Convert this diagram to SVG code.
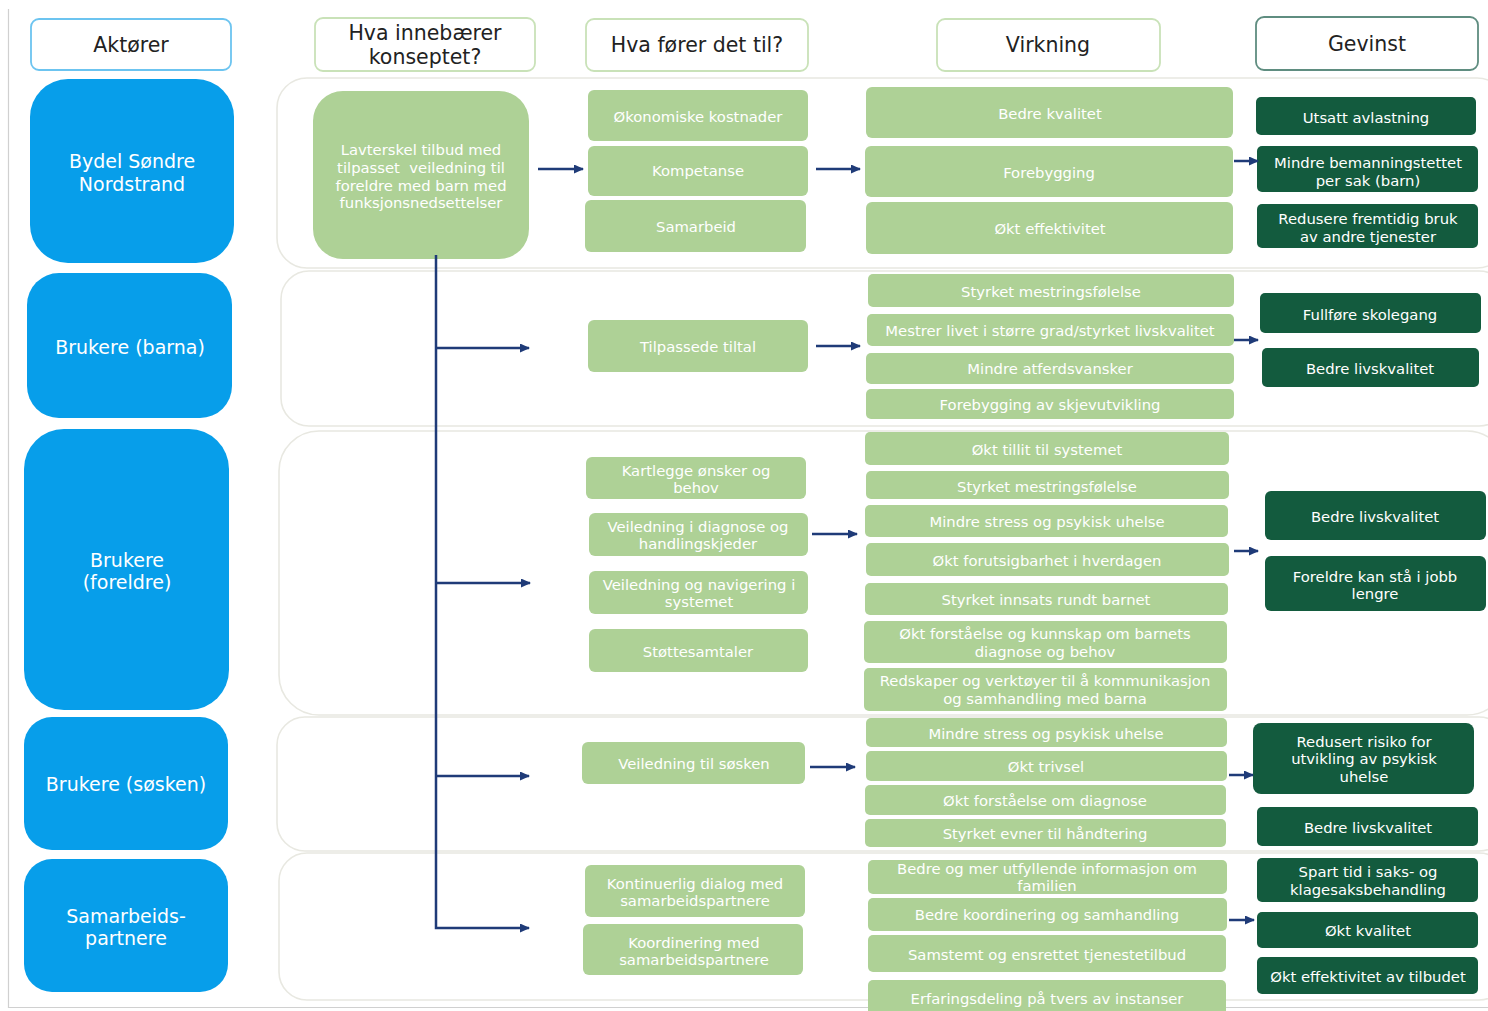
<svg xmlns="http://www.w3.org/2000/svg" width="1488" height="1011" viewBox="0 0 1488 1011">
<defs>
<style>
text{font-family:"DejaVu Sans",Verdana,sans-serif;text-anchor:middle;dominant-baseline:central}
.hdr{fill:#fff;stroke-width:1.8}
.hb{stroke:#6cc4f0}
.hg{stroke:#c9e2b8}
.ht{stroke:#5f8d80}
.ht1{font-size:20.5px;fill:#222}
.actor{fill:#079eea}
.at{font-size:19px;fill:#fff}
.row{fill:#fff;stroke:#e8e8e1;stroke-width:1.6}
.lg{fill:#aed196}
.dg{fill:#135b3e}
.t{font-size:14.8px;fill:#fff}
.tc{font-size:14.8px;fill:#fff}
.conn{fill:none;stroke:#1f3b78;stroke-width:2.5}
.frame{fill:none;stroke:#d0d0d0;stroke-width:1.2}
</style>
<marker id="ah" markerUnits="userSpaceOnUse" markerWidth="10" markerHeight="10" refX="9" refY="4.5" orient="auto">
<path d="M0,0 L10,4.5 L0,9 z" fill="#1f3b78"/>
</marker>
</defs>
<rect width="1488" height="1011" fill="#fff"/>
<path class="frame" d="M8.5,9 V1007.5 H1488"/>

<!-- row containers -->
<g id="rows">
<rect class="row" x="277" y="78" width="1230" height="190" rx="30"/>
<rect class="row" x="281" y="271" width="1226" height="155" rx="28"/>
<rect class="row" x="279" y="431" width="1228" height="284" rx="40"/>
<rect class="row" x="277" y="717" width="1230" height="134" rx="28"/>
<rect class="row" x="279" y="853" width="1228" height="147" rx="28"/>
</g>

<!-- headers -->
<g id="hdr-aktorer"><rect class="hdr hb" x="31" y="19" width="200" height="51" rx="8"/><text class="ht1" x="131" y="45">Aktører</text></g>
<g id="hdr-konsept"><rect class="hdr hg" x="315" y="18" width="220" height="53" rx="8"/><text class="ht1" x="425" y="33">Hva innebærer</text><text class="ht1" x="425" y="57">konseptet?</text></g>
<g id="hdr-forer"><rect class="hdr hg" x="586" y="19" width="222" height="52" rx="8"/><text class="ht1" x="697" y="45">Hva fører det til?</text></g>
<g id="hdr-virkning"><rect class="hdr hg" x="937" y="19" width="223" height="52" rx="8"/><text class="ht1" x="1048" y="45">Virkning</text></g>
<g id="hdr-gevinst"><rect class="hdr ht" x="1256" y="17" width="222" height="53" rx="8"/><text class="ht1" x="1367" y="44">Gevinst</text></g>

<!-- actors -->
<g id="actor-bydel"><rect class="actor" x="30" y="79" width="204" height="184" rx="38"/><text class="at" x="132" y="161">Bydel Søndre</text><text class="at" x="132" y="184">Nordstrand</text></g>
<g id="actor-barna"><rect class="actor" x="27" y="273" width="205" height="145" rx="32"/><text class="at" x="130" y="347">Brukere (barna)</text></g>
<g id="actor-foreldre"><rect class="actor" x="24" y="429" width="205" height="281" rx="40"/><text class="at" x="127" y="560">Brukere</text><text class="at" x="127" y="582">(foreldre)</text></g>
<g id="actor-sosken"><rect class="actor" x="24" y="717" width="204" height="133" rx="28"/><text class="at" x="126" y="784">Brukere (søsken)</text></g>
<g id="actor-samarbeid"><rect class="actor" x="24" y="859" width="204" height="133" rx="28"/><text class="at" x="126" y="916">Samarbeids-</text><text class="at" x="126" y="938">partnere</text></g>

<!-- concept -->
<g id="konsept"><rect class="lg" x="313" y="91" width="216" height="168" rx="30"/>
<text class="tc" x="421" y="149">Lavterskel tilbud med</text>
<text class="tc" x="421" y="167" xml:space="preserve">tilpasset  veiledning til</text>
<text class="tc" x="421" y="185">foreldre med barn med</text>
<text class="tc" x="421" y="202">funksjonsnedsettelser</text></g>

<!-- column 3 -->
<g id="c3-okonomi"><rect class="lg" x="588" y="90" width="220" height="51" rx="6"/><text class="t" x="698" y="116">Økonomiske kostnader</text></g>
<g id="c3-kompetanse"><rect class="lg" x="588" y="146" width="220" height="50" rx="6"/><text class="t" x="698" y="170">Kompetanse</text></g>
<g id="c3-samarbeid"><rect class="lg" x="585" y="200" width="221" height="52" rx="6"/><text class="t" x="696" y="226">Samarbeid</text></g>
<g id="c3-tilpassede"><rect class="lg" x="588" y="320" width="220" height="52" rx="6"/><text class="t" x="698" y="346">Tilpassede tiltal</text></g>
<g id="c3-kartlegge"><rect class="lg" x="586" y="457" width="220" height="42" rx="6"/><text class="t" x="696" y="470">Kartlegge ønsker og</text><text class="t" x="696" y="487">behov</text></g>
<g id="c3-veil-diag"><rect class="lg" x="589" y="513" width="219" height="43" rx="6"/><text class="t" x="698" y="526">Veiledning i diagnose og</text><text class="t" x="698" y="543">handlingskjeder</text></g>
<g id="c3-veil-nav"><rect class="lg" x="589" y="571" width="219" height="43" rx="6"/><text class="t" x="699" y="584">Veiledning og navigering i</text><text class="t" x="699" y="601">systemet</text></g>
<g id="c3-stotte"><rect class="lg" x="589" y="629" width="219" height="43" rx="6"/><text class="t" x="698" y="651">Støttesamtaler</text></g>
<g id="c3-sosken"><rect class="lg" x="582" y="742" width="223" height="42" rx="6"/><text class="t" x="694" y="763">Veiledning til søsken</text></g>
<g id="c3-dialog"><rect class="lg" x="585" y="865" width="220" height="52" rx="6"/><text class="t" x="695" y="883">Kontinuerlig dialog med</text><text class="t" x="695" y="900">samarbeidspartnere</text></g>
<g id="c3-koord"><rect class="lg" x="583" y="924" width="220" height="51" rx="6"/><text class="t" x="694" y="942">Koordinering med</text><text class="t" x="694" y="959">samarbeidspartnere</text></g>

<!-- column 4 -->
<g id="c4-r1-kvalitet"><rect class="lg" x="866" y="87" width="367" height="51" rx="6"/><text class="t" x="1050" y="113">Bedre kvalitet</text></g>
<g id="c4-r1-forebygging"><rect class="lg" x="865" y="146" width="368" height="51" rx="6"/><text class="t" x="1049" y="172">Forebygging</text></g>
<g id="c4-r1-effektivitet"><rect class="lg" x="866" y="202" width="367" height="52" rx="6"/><text class="t" x="1050" y="228">Økt effektivitet</text></g>

<g id="c4-r2-mestring"><rect class="lg" x="868" y="274" width="366" height="33" rx="5"/><text class="t" x="1051" y="291">Styrket mestringsfølelse</text></g>
<g id="c4-r2-mestrer"><rect class="lg" x="867" y="314" width="367" height="32" rx="5"/><text class="t" x="1050" y="330">Mestrer livet i større grad/styrket livskvalitet</text></g>
<g id="c4-r2-atferd"><rect class="lg" x="866" y="353" width="368" height="31" rx="5"/><text class="t" x="1050" y="368">Mindre atferdsvansker</text></g>
<g id="c4-r2-skjev"><rect class="lg" x="866" y="389" width="368" height="30" rx="5"/><text class="t" x="1050" y="404">Forebygging av skjevutvikling</text></g>

<g id="c4-r3-tillit"><rect class="lg" x="865" y="432" width="364" height="33" rx="5"/><text class="t" x="1047" y="449">Økt tillit til systemet</text></g>
<g id="c4-r3-mestring"><rect class="lg" x="866" y="471" width="363" height="28" rx="5"/><text class="t" x="1047" y="486">Styrket mestringsfølelse</text></g>
<g id="c4-r3-stress"><rect class="lg" x="865" y="505" width="363" height="32" rx="5"/><text class="t" x="1047" y="521">Mindre stress og psykisk uhelse</text></g>
<g id="c4-r3-forutsig"><rect class="lg" x="866" y="543" width="363" height="33" rx="5"/><text class="t" x="1047" y="560">Økt forutsigbarhet i hverdagen</text></g>
<g id="c4-r3-innsats"><rect class="lg" x="865" y="583" width="363" height="32" rx="5"/><text class="t" x="1046" y="599">Styrket innsats rundt barnet</text></g>
<g id="c4-r3-forstaelse"><rect class="lg" x="864" y="621" width="363" height="42" rx="5"/><text class="t" x="1045" y="633">Økt forståelse og kunnskap om barnets</text><text class="t" x="1045" y="651">diagnose og behov</text></g>
<g id="c4-r3-redskaper"><rect class="lg" x="864" y="668" width="363" height="43" rx="5"/><text class="t" x="1045" y="680">Redskaper og verktøyer til å kommunikasjon</text><text class="t" x="1045" y="698">og samhandling med barna</text></g>

<g id="c4-r4-stress"><rect class="lg" x="866" y="718" width="361" height="29" rx="5"/><text class="t" x="1046" y="733">Mindre stress og psykisk uhelse</text></g>
<g id="c4-r4-trivsel"><rect class="lg" x="866" y="751" width="361" height="30" rx="5"/><text class="t" x="1046" y="766">Økt trivsel</text></g>
<g id="c4-r4-diagnose"><rect class="lg" x="865" y="785" width="361" height="30" rx="5"/><text class="t" x="1045" y="800">Økt forståelse om diagnose</text></g>
<g id="c4-r4-evner"><rect class="lg" x="865" y="819" width="361" height="28" rx="5"/><text class="t" x="1045" y="833">Styrket evner til håndtering</text></g>

<g id="c4-r5-info"><rect class="lg" x="868" y="860" width="359" height="34" rx="5"/><text class="t" x="1047" y="868">Bedre og mer utfyllende informasjon om</text><text class="t" x="1047" y="885">familien</text></g>
<g id="c4-r5-koord"><rect class="lg" x="868" y="898" width="359" height="33" rx="5"/><text class="t" x="1047" y="914">Bedre koordinering og samhandling</text></g>
<g id="c4-r5-samstemt"><rect class="lg" x="868" y="935" width="358" height="37" rx="5"/><text class="t" x="1047" y="954">Samstemt og ensrettet tjenestetilbud</text></g>
<g id="c4-r5-erfaring"><rect class="lg" x="868" y="980" width="358" height="40" rx="5"/><text class="t" x="1047" y="998">Erfaringsdeling på tvers av instanser</text></g>

<!-- gevinst -->
<g id="g-r1-avlastning"><rect class="dg" x="1256" y="97" width="220" height="38" rx="5"/><text class="t" x="1366" y="117">Utsatt avlastning</text></g>
<g id="g-r1-bemanning"><rect class="dg" x="1257" y="146" width="221" height="46" rx="5"/><text class="t" x="1368" y="162">Mindre bemanningstettet</text><text class="t" x="1368" y="180">per sak (barn)</text></g>
<g id="g-r1-redusere"><rect class="dg" x="1257" y="204" width="221" height="44" rx="5"/><text class="t" x="1368" y="218">Redusere fremtidig bruk</text><text class="t" x="1368" y="236">av andre tjenester</text></g>
<g id="g-r2-skole"><rect class="dg" x="1260" y="293" width="221" height="40" rx="5"/><text class="t" x="1370" y="314">Fullføre skolegang</text></g>
<g id="g-r2-livskvalitet"><rect class="dg" x="1262" y="348" width="217" height="39" rx="5"/><text class="t" x="1370" y="368">Bedre livskvalitet</text></g>
<g id="g-r3-livskvalitet"><rect class="dg" x="1265" y="491" width="221" height="49" rx="6"/><text class="t" x="1375" y="516">Bedre livskvalitet</text></g>
<g id="g-r3-jobb"><rect class="dg" x="1265" y="556" width="221" height="55" rx="6"/><text class="t" x="1375" y="576">Foreldre kan stå i jobb</text><text class="t" x="1375" y="593">lengre</text></g>
<g id="g-r4-risiko"><rect class="dg" x="1253" y="723" width="221" height="71" rx="8"/><text class="t" x="1364" y="741">Redusert risiko for</text><text class="t" x="1364" y="758">utvikling av psykisk</text><text class="t" x="1364" y="776">uhelse</text></g>
<g id="g-r4-livskvalitet"><rect class="dg" x="1257" y="807" width="221" height="39" rx="5"/><text class="t" x="1368" y="827">Bedre livskvalitet</text></g>
<g id="g-r5-sparttid"><rect class="dg" x="1257" y="858" width="221" height="44" rx="5"/><text class="t" x="1368" y="871">Spart tid i saks- og</text><text class="t" x="1368" y="889">klagesaksbehandling</text></g>
<g id="g-r5-kvalitet"><rect class="dg" x="1257" y="912" width="221" height="36" rx="5"/><text class="t" x="1368" y="930">Økt kvalitet</text></g>
<g id="g-r5-effektivitet"><rect class="dg" x="1257" y="957" width="221" height="37" rx="5"/><text class="t" x="1368" y="976">Økt effektivitet av tilbudet</text></g>

<!-- connectors -->
<g id="connectors">
<path class="conn" d="M436,255 V928 H529" marker-end="url(#ah)"/>
<path class="conn" d="M436,348 H529" marker-end="url(#ah)"/>
<path class="conn" d="M436,583 H530" marker-end="url(#ah)"/>
<path class="conn" d="M436,776 H529" marker-end="url(#ah)"/>
<path class="conn" d="M538,169 H583" marker-end="url(#ah)"/>
<path class="conn" d="M816,169 H860" marker-end="url(#ah)"/>
<path class="conn" d="M1234,161 H1258" marker-end="url(#ah)"/>
<path class="conn" d="M816,346 H860" marker-end="url(#ah)"/>
<path class="conn" d="M1234,340 H1258" marker-end="url(#ah)"/>
<path class="conn" d="M812,534 H857" marker-end="url(#ah)"/>
<path class="conn" d="M1234,551 H1258" marker-end="url(#ah)"/>
<path class="conn" d="M810,767 H855" marker-end="url(#ah)"/>
<path class="conn" d="M1229,775 H1253" marker-end="url(#ah)"/>
<path class="conn" d="M1229,920 H1254" marker-end="url(#ah)"/>
</g>
</svg>
